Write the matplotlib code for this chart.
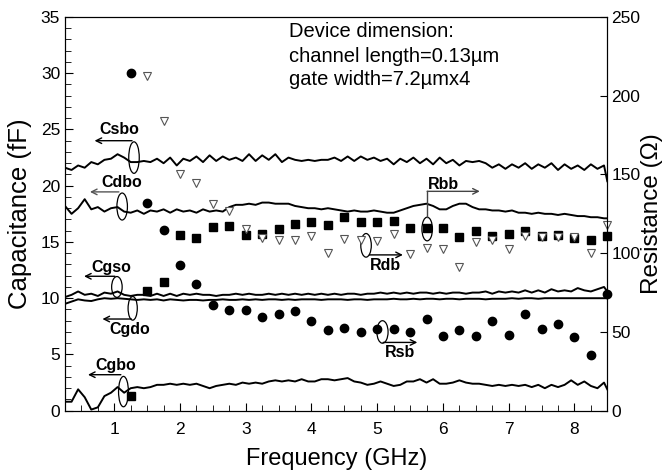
import numpy as np
import matplotlib
matplotlib.use('Agg')
import matplotlib.pyplot as plt
from matplotlib.patches import Ellipse
from matplotlib.ticker import MultipleLocator

plt.rcParams['font.family'] = ['Liberation Sans', 'DejaVu Sans']

# swept capacitance curves (fF)
freq_line = np.append(np.arange(0.25, 8.5, 0.1), 8.5)

csbo = [21.6, 21.4, 21.8, 21.6, 22.1, 21.9, 22.3, 22.4, 22.8, 22.5,
        22.1, 22.1, 22.2, 22.1, 22.4, 22.0, 22.5, 21.8, 22.4, 22.2,
        22.6, 22.1, 22.7, 22.2, 22.6, 22.3, 22.5, 22.2, 22.8, 22.2,
        22.7, 22.3, 22.8, 22.1, 22.5, 22.3, 22.2, 22.3, 22.2, 22.3,
        22.3, 22.5, 22.2, 22.6, 22.2, 22.6, 22.3, 22.5, 22.2, 22.4,
        21.9, 22.4, 22.1, 22.5, 22.0, 22.4, 21.9, 22.5, 22.0, 22.3,
        21.8, 22.2, 22.1, 22.2, 22.0, 21.6, 21.9, 21.5, 21.9, 21.6,
        22.0, 21.5, 21.9, 21.6, 22.0, 21.4, 21.9, 21.5, 21.8, 21.4,
        21.9, 21.5, 21.8, 20.4]
cdbo = [18.2, 17.5, 18.0, 18.8, 17.9, 18.1, 17.7, 18.0, 18.1, 17.7,
        17.6, 17.8, 17.5, 17.8, 17.7, 17.9, 17.6, 17.9, 17.7, 17.8,
        17.6, 17.9, 17.7, 17.8, 17.7, 18.1, 18.3, 18.3, 18.4, 18.3,
        18.5, 18.5, 18.4, 18.4, 18.4, 18.2, 18.1, 18.0, 18.0, 17.9,
        18.0, 17.9, 17.8, 17.7, 17.8, 17.7, 17.7, 17.8, 17.7, 17.6,
        17.6, 17.8, 18.0, 18.2, 18.3, 18.4, 18.2, 17.9, 17.9, 18.2,
        18.4, 18.4, 18.1, 17.9, 17.9, 17.8, 17.8, 17.7, 17.8, 17.6,
        17.6, 17.5, 17.6, 17.5, 17.5, 17.4, 17.5, 17.4, 17.3, 17.3,
        17.2, 17.2, 17.1, 17.1]
cgso = [10.1, 10.3, 10.6, 10.3, 10.4, 10.2, 10.5, 10.4, 10.6, 10.3,
        10.2, 10.3, 10.3, 10.2, 10.4, 10.2, 10.4, 10.2, 10.4, 10.3,
        10.4, 10.3, 10.3, 10.2, 10.3, 10.3, 10.4, 10.3, 10.4, 10.3,
        10.3, 10.4, 10.3, 10.4, 10.3, 10.4, 10.3, 10.4, 10.3, 10.4,
        10.3, 10.4, 10.3, 10.4, 10.4, 10.3, 10.4, 10.4, 10.5, 10.4,
        10.5, 10.4, 10.5, 10.4, 10.5, 10.5, 10.4, 10.5, 10.4, 10.5,
        10.5, 10.4, 10.5, 10.5, 10.6, 10.4, 10.6, 10.5, 10.6, 10.5,
        10.7, 10.5, 10.7, 10.5, 10.8, 10.6, 10.7, 10.6, 10.9, 10.7,
        10.6, 10.8, 11.0, 10.6]
cgdo = [9.5, 9.7, 9.9, 9.8, 9.75, 9.9, 10.0, 9.95, 10.0, 9.95,
        9.9, 9.85, 9.9, 9.85, 9.9, 9.8, 9.9, 9.85, 9.8, 9.85,
        9.85, 9.8, 9.85, 9.85, 9.9, 9.85, 9.85, 9.9, 9.85, 9.9,
        9.85, 9.9, 9.9, 9.85, 9.9, 9.85, 9.9, 9.9, 9.9, 9.85,
        9.9, 9.9, 9.9, 9.85, 9.9, 9.9, 9.85, 9.9, 9.9, 9.9,
        9.95, 9.9, 9.9, 9.95, 9.9, 9.95, 9.95, 9.9, 9.95, 9.95,
        9.9, 9.95, 9.95, 9.95, 9.9, 9.95, 9.95, 9.95, 10.0, 9.95,
        10.0, 10.0, 9.95, 10.0, 10.0, 10.0, 10.0, 10.0, 10.0, 10.0,
        10.0, 10.0, 10.0, 10.0]
cgbo = [0.8, 0.8, 1.9, 1.2, 0.1, 0.3, 1.3, 1.6, 2.1, 1.6,
        2.0, 2.1, 2.0, 2.1, 2.3, 2.3, 2.4, 2.3, 2.4, 2.3,
        2.4, 2.2, 2.0, 2.2, 2.3, 2.4, 2.3, 2.5, 2.4, 2.5,
        2.4, 2.6, 2.7, 2.6, 2.7, 2.6, 2.8, 2.6, 2.6, 2.8,
        2.8, 2.7, 2.8, 2.9, 2.6, 2.5, 2.3, 2.4, 2.6, 2.4,
        2.2, 2.3, 2.6, 2.6, 2.8, 2.5, 2.8, 2.4, 2.4, 2.5,
        2.7, 2.5, 2.4, 2.4, 2.3, 2.2, 2.3, 2.2, 2.3, 2.2,
        2.3, 2.1, 2.3, 2.0, 2.3, 2.1, 2.3, 2.7, 2.3, 2.6,
        2.2, 2.0, 2.5, 1.9]

# extracted resistances (Ohm)
freq_pts = np.arange(1.25, 8.51, 0.25)
rsb = [214.4, 132, 114.6, 92.2, 80.6, 67.2, 64.2, 64.2, 59.6, 61.3,
       63.4, 56.7, 51.1, 52.5, 50.0, 52.1, 52.1, 50.2, 58.4, 47.3,
       51.5, 47.3, 56.7, 47.9, 61.3, 52.1, 55.2, 47.1, 35.4, 73.9]
rbb = [9.2, 75.7, 82.0, 111.7, 109.8, 116.5, 117.4, 111.7, 112.4, 115.3,
       118.6, 120.1, 118.0, 122.8, 119.5, 119.5, 120.7, 115.7, 115.7, 116.3,
       110.3, 114.0, 111.1, 112.1, 113.8, 110.7, 111.7, 109.6, 108.4, 111.1]
rdb = [212.8, 184.1, 150.0, 144.8, 131.2, 127.0, 115.3, 109.8, 108.2,
       108.6, 110.7, 100.2, 109.2, 108.1, 107.7, 112.0, 99.7, 103.5, 102.8,
       91.2, 107.0, 108.1, 102.8, 111.1, 110.0, 110.5, 110.0, 100.0, 117.7]

info_lines = ['Device dimension:', 'channel length=0.13\u00b5m', 'gate width=7.2\u00b5mx4']

fig = plt.figure(figsize=(6.63, 4.71), dpi=100)
ax = fig.add_axes([0.098, 0.128, 0.818, 0.836])
ax2 = ax.twinx()

for c in [csbo, cdbo, cgso, cgdo, cgbo]:
    ax.plot(freq_line, c, color='black', lw=1.4)

ax2.plot(freq_pts, rsb, 'o', color='black', ms=6, clip_on=False)
ax2.plot(freq_pts, rbb, 's', color='black', ms=5.5, clip_on=False)
ax2.plot(freq_pts[1:], rdb, 'v', mfc='white', mec='#555555', mew=0.8, ms=6, clip_on=False)

ax.set_xlim(0.25, 8.5)
ax.set_ylim(0, 35)
ax2.set_ylim(0, 250)
ax.xaxis.set_major_locator(MultipleLocator(1))
ax.xaxis.set_minor_locator(MultipleLocator(0.25))
ax.yaxis.set_major_locator(MultipleLocator(5))
ax.yaxis.set_minor_locator(MultipleLocator(1))
ax2.yaxis.set_major_locator(MultipleLocator(50))
ax.tick_params(which='both', direction='in', top=False, labelsize=12.5)
ax.tick_params(which='major', length=6)
ax.tick_params(which='minor', length=4)
ax2.tick_params(direction='in', length=5, labelsize=12.5, pad=3)
ax.tick_params(axis='x', pad=8)

ax.set_xlabel('Frequency (GHz)', fontsize=17, labelpad=8)
ax.set_ylabel('Capacitance (fF)', fontsize=18.5, labelpad=6)
ax2.set_ylabel('Resistance (\u03a9)', fontsize=17.5, labelpad=0)

for y, s in zip([33.7, 31.5, 29.4], info_lines):
    ax.text(3.66, y, s, fontsize=14.5, va='center', ha='left')

# ellipses around curves / arrows pointing to their axis
ellipses = [(1.30, 22.5, 0.16, 2.8), (1.12, 18.15, 0.16, 2.4), (1.04, 11.0, 0.16, 1.85),
            (1.28, 9.1, 0.14, 2.1), (1.14, 1.7, 0.15, 2.7), (5.76, 16.15, 0.16, 2.1),
            (4.83, 14.7, 0.16, 2.1), (5.08, 7.0, 0.17, 2.0)]
for x, y, w, h in ellipses:
    ax.add_patch(Ellipse((x, y), w, h, fill=False, ec='black', lw=0.9))

arr = dict(arrowstyle='->', color='black', lw=1.0, shrinkA=0, shrinkB=0)
ax.annotate('', xy=(0.70, 24.0), xytext=(1.27, 24.0), arrowprops=arr)
ax.annotate('', xy=(0.63, 19.45), xytext=(1.07, 19.45), arrowprops=dict(arr, color='#555555'))
ax.annotate('', xy=(0.54, 11.95), xytext=(1.01, 11.95), arrowprops=arr)
ax.annotate('', xy=(0.82, 8.15), xytext=(1.26, 8.15), arrowprops=arr)
ax.annotate('', xy=(0.60, 3.2), xytext=(1.10, 3.2), arrowprops=arr)
ax.plot([5.76, 5.76], [17.2, 19.5], color='#444444', lw=1.0)
ax.annotate('', xy=(6.56, 19.5), xytext=(5.76, 19.5), arrowprops=dict(arr, color='#444444'))
ax.annotate('', xy=(5.39, 13.85), xytext=(4.88, 13.85), arrowprops=arr)
ax.annotate('', xy=(5.61, 6.07), xytext=(5.09, 6.07), arrowprops=arr)

lab = dict(fontsize=11.5, fontweight='bold', ha='center', va='center')
ax.text(1.07, 25.0, 'Csbo', **lab)
ax.text(1.12, 20.3, 'Cdbo', **lab)
ax.text(0.95, 12.75, 'Cgso', **lab)
ax.text(1.23, 7.25, 'Cgdo', **lab)
ax.text(1.03, 4.0, 'Cgbo', **lab)
ax.text(6.0, 20.15, 'Rbb', **lab)
ax.text(5.12, 12.9, 'Rdb', **lab)
ax.text(5.35, 5.2, 'Rsb', **lab)

fig.savefig('out.png', dpi=100)
